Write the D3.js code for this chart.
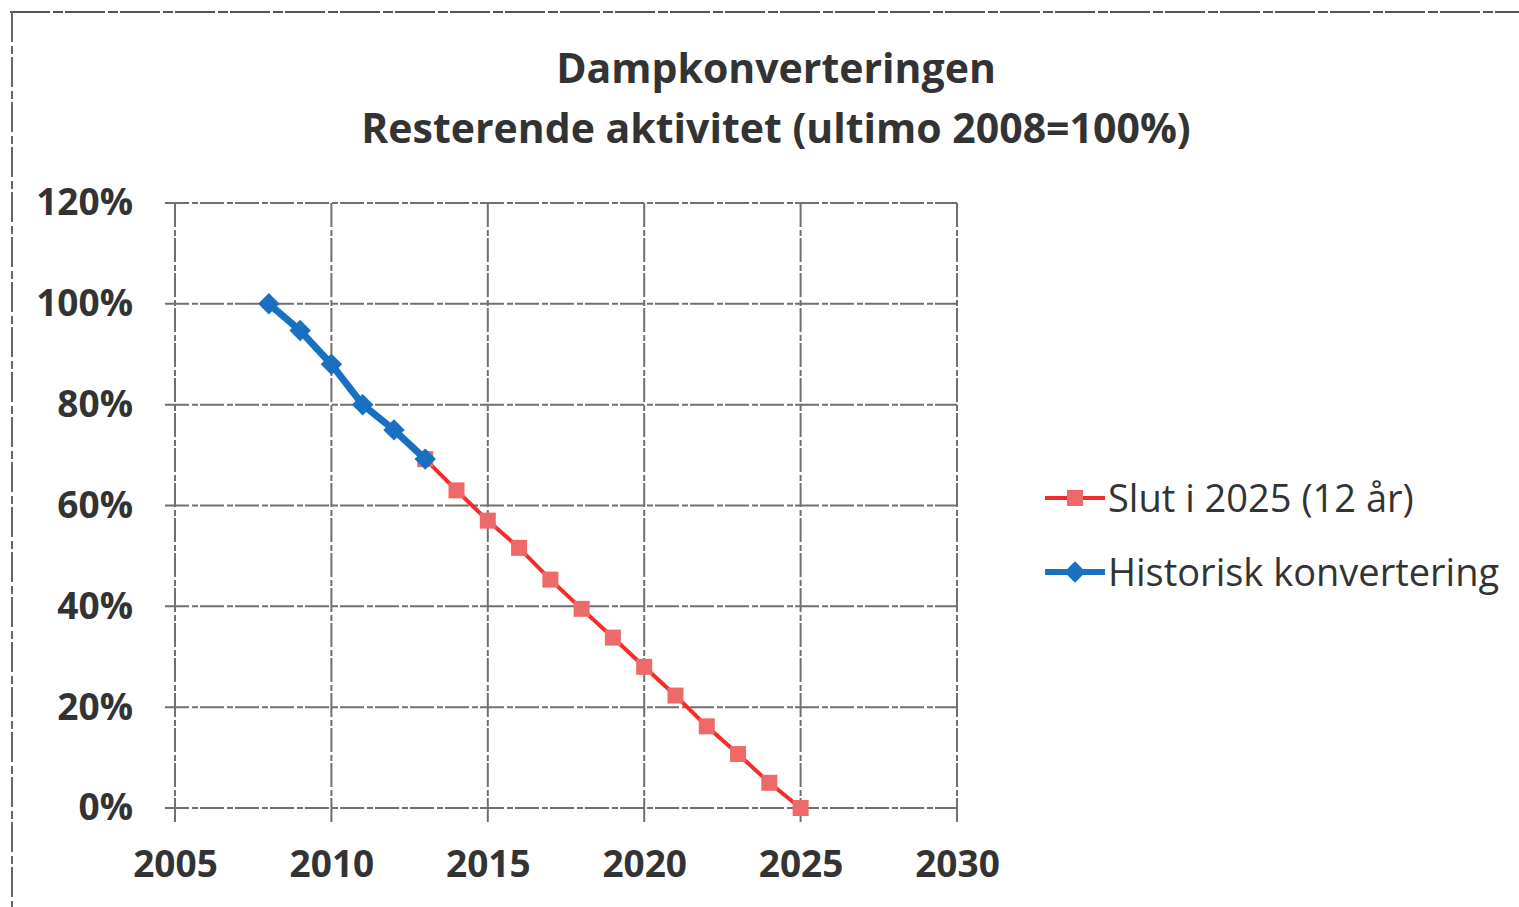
<!DOCTYPE html>
<html>
<head>
<meta charset="utf-8">
<script src="https://cdn.jsdelivr.net/npm/d3@7"></script>
<style>
body { margin: 0; background: #fff; }
svg { display: block; }
</style>
</head>
<body>
<div id="chart"></div>
<script>
// data
const histYears = [2008, 2009, 2010, 2011, 2012, 2013];
const histValues = [1.00, 0.947, 0.88, 0.80, 0.75, 0.692];
const planYears = [2013, 2014, 2015, 2016, 2017, 2018, 2019, 2020, 2021, 2022, 2023, 2024, 2025];
const planValues = [0.692, 0.63, 0.57, 0.516, 0.453, 0.395, 0.338, 0.28, 0.223, 0.162, 0.107, 0.05, 0.0];
const xTicks = [2005, 2010, 2015, 2020, 2025, 2030];
const yTicks = [0, 0.2, 0.4, 0.6, 0.8, 1.0, 1.2];
const seriesNames = ['Slut i 2025 (12 år)', 'Historisk konvertering'];
const titleLines = ['Dampkonverteringen', 'Resterende aktivitet (ultimo 2008=100%)'];

const W = 1519, H = 907;
const svg = d3.select('#chart').append('svg')
  .attr('width', W).attr('height', H);

// outer chart frame (only top and left edges visible)
svg.append('line').attr('x1', 10).attr('x2', W).attr('y1', 12).attr('y2', 12)
  .attr('stroke', '#555').attr('stroke-width', 2).attr('stroke-dasharray', '40 3 10 2');
svg.append('line').attr('x1', 12).attr('x2', 12).attr('y1', 12).attr('y2', H)
  .attr('stroke', '#666').attr('stroke-width', 2).attr('stroke-dasharray', '30 4 8 3');

const x = d3.scaleLinear().domain([2005, 2030]).range([175, 957]);
const y = d3.scaleLinear().domain([0, 1.2]).range([808, 203]);

// title
svg.append('g').selectAll('text').data(titleLines).join('text')
  .attr('x', 776).attr('y', (d, i) => 83 + i * 60)
  .attr('text-anchor', 'middle')
  .attr('font-family', 'Open Sans, sans-serif')
  .attr('font-weight', 'bold')
  .attr('font-size', 41)
  .attr('fill', '#333')
  .text(d => d);

// gridlines
const grid = svg.append('g').attr('stroke', '#707070').attr('stroke-width', 2)
  .attr('stroke-dasharray', '24 3 6 2');
grid.selectAll('.gy').data(yTicks).join('line')
  .attr('x1', x(2005) - 10).attr('x2', x(2030))
  .attr('y1', d => y(d)).attr('y2', d => y(d));
grid.selectAll('.gx').data(xTicks).join('line')
  .attr('x1', d => x(d)).attr('x2', d => x(d))
  .attr('y1', y(1.2)).attr('y2', y(0) + 14);

// axes
const yAxis = svg.append('g').attr('transform', `translate(${x(2005)},0)`)
  .call(d3.axisLeft(y).tickValues(yTicks).tickFormat(d3.format('.0%')).tickSize(0).tickPadding(42));
const xAxis = svg.append('g').attr('transform', `translate(0,${y(0)})`)
  .call(d3.axisBottom(x).tickValues(xTicks).tickFormat(d3.format('d')).tickSize(0).tickPadding(43));
[yAxis, xAxis].forEach(a => {
  a.select('.domain').remove();
  a.selectAll('text')
    .attr('font-family', 'Open Sans, sans-serif')
    .attr('font-weight', 'bold')
    .attr('font-size', 37)
    .attr('fill', '#333');
});

const line = d3.line().x(d => x(d[0])).y(d => y(d[1]));
const plan = planYears.map((d, i) => [d, planValues[i]]);
const hist = histYears.map((d, i) => [d, histValues[i]]);

// red series
svg.append('path').datum(plan).attr('d', line)
  .attr('fill', 'none').attr('stroke', '#f52a2a').attr('stroke-width', 4);
svg.append('g').selectAll('rect').data(plan).join('rect')
  .attr('x', d => x(d[0]) - 8).attr('y', d => y(d[1]) - 8)
  .attr('width', 16).attr('height', 16)
  .attr('fill', '#ee6a6a');

// blue series
svg.append('path').datum(hist).attr('d', line)
  .attr('fill', 'none').attr('stroke', '#1a70c0').attr('stroke-width', 7);
const diamond = d3.symbol().type(d3.symbolSquare).size(230);
svg.append('g').selectAll('path').data(hist).join('path')
  .attr('d', diamond)
  .attr('transform', d => `translate(${x(d[0])},${y(d[1])}) rotate(45)`)
  .attr('fill', '#1a70c0');

// legend
const legend = svg.append('g').attr('transform', 'translate(1045,0)');
const legY = [498, 572];
const legColors = ['#f52a2a', '#1a70c0'];
seriesNames.forEach((name, i) => {
  const g = legend.append('g').attr('transform', `translate(0,${legY[i]})`);
  g.append('line').attr('x1', 0).attr('x2', 60).attr('y1', 0).attr('y2', 0)
    .attr('stroke', legColors[i]).attr('stroke-width', i === 0 ? 4 : 6);
  if (i === 0) {
    g.append('rect').attr('x', 22).attr('y', -8).attr('width', 16).attr('height', 16).attr('fill', '#ee6a6a');
  } else {
    g.append('path').attr('d', diamond).attr('transform', 'translate(30,0) rotate(45)').attr('fill', '#1a70c0');
  }
  g.append('text').attr('x', 63).attr('y', 14)
    .attr('font-family', 'Open Sans, sans-serif')
    .attr('font-size', 38)
    .attr('fill', '#333')
    .text(name);
});
</script>
</body>
</html>
